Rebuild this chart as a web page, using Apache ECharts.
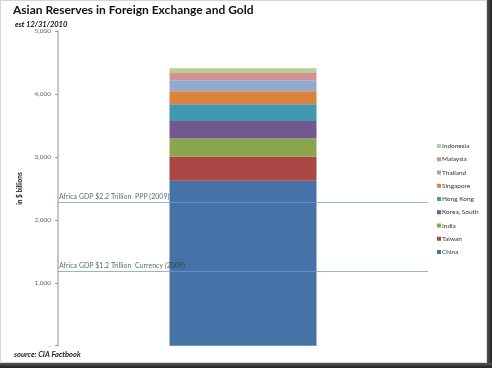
<!DOCTYPE html>
<html><head><meta charset="utf-8">
<script src="https://cdn.jsdelivr.net/npm/echarts@6/dist/echarts.min.js"></script>
<style>html,body{margin:0;padding:0;background:#fff}#c{width:492px;height:368px}</style>
</head><body><div id="c"></div>
<script>
var categories = ['Reserves'];
var countries = ['China','Taiwan','India','Korea, South','Hong Kong','Singapore','Thailand','Malaysia','Indonesia'];
var reserves = [2622, 387, 287, 278, 266, 208, 174, 115, 75];
var colors = ['#4572A7','#AA4643','#89A54E','#71588F','#4198AF','#DB843D','#93A9CF','#D19392','#B9CD96'];
var refLabels = ['Africa GDP $2.2 Trillion  PPP (2009)','Africa GDP $1.2 Trillion  Currency (2009)'];
var refValues = [2280, 1180];
var yTicks = [0, 1000, 2000, 3000, 4000, 5000];

var FONT = 'Lato';
var series = countries.map(function(name, i){
  return {
    name: name, type: 'bar', stack: 'total', barWidth: 147,
    itemStyle: {color: colors[i]},
    data: [reserves[i]]
  };
});
series.push({
  name: 'ref', type: 'line', data: [], silent: true, symbol: 'none',
  markLine: {
    silent: true, symbol: 'none', z: 10,
    lineStyle: {color: '#6f9bd1', width: 1, type: 'solid', opacity: 0.75},
    label: {position: 'insideStartTop', distance: [1, 2], color: '#333', fontFamily: FONT, fontSize: 7},
    data: refValues.map(function(v, i){ return {yAxis: v, label: {formatter: refLabels[i]}}; })
  }
});
var chart = echarts.init(document.getElementById('c'), null, {renderer: 'canvas'});
chart.setOption({
  animation: false,
  backgroundColor: '#fff',
  title: [
    {text: 'Asian Reserves in Foreign Exchange and Gold', left: 13, top: 4, padding: 0,
     textStyle: {fontFamily: FONT, fontWeight: 'bold', fontSize: 12, color: '#111'}},
    {text: 'est 12/31/2010', left: 15, top: 21, padding: 0,
     textStyle: {fontFamily: FONT, fontWeight: 'bold', fontStyle: 'italic', fontSize: 7.5, color: '#111'}}
  ],
  legend: {
    orient: 'vertical', left: 437, top: 141, padding: 0,
    data: countries.slice().reverse(),
    itemWidth: 4, itemHeight: 4, itemGap: 3.25, icon: 'rect',
    textStyle: {fontFamily: FONT, fontSize: 6.5, color: '#333', lineHeight: 10, padding: [0,0,0,-4]}
  },
  grid: {left: 58, right: 64, top: 31.3, bottom: 22.3},
  xAxis: {type: 'category', data: categories, show: false},
  yAxis: {
    type: 'value', min: yTicks[0], max: yTicks[yTicks.length-1], interval: 1000,
    name: 'in $ billions', nameLocation: 'middle', nameGap: 28, nameRotate: 90,
    nameTextStyle: {fontFamily: FONT, fontWeight: 'bold', fontSize: 6.5, color: '#111'},
    axisLine: {show: true, lineStyle: {color: '#c8c8c8', width: 2}},
    axisTick: {show: true, length: 3, lineStyle: {color: '#999'}},
    splitLine: {show: false},
    axisLabel: {margin: 7, fontFamily: FONT, fontSize: 6.5, color: '#666',
      formatter: function(v){ return v === 0 ? '-' : v.toLocaleString('en-US'); }}
  },
  graphic: [
    {type: 'text', left: 14, top: 351, style: {text: 'source: CIA Factbook', fontFamily: FONT, fontStyle: 'italic', fontWeight: 'bold', fontSize: 7.5, fill: '#222'}},
    {type: 'rect', shape: {x: 0.5, y: 0.5, width: 486, height: 362}, style: {fill: 'none', stroke: '#d4d4d4', lineWidth: 1}, silent: true},
    {type: 'rect', shape: {x: 487, y: 0, width: 5, height: 368}, style: {fill: new echarts.graphic.LinearGradient(0,0,1,0,[{offset:0,color:'#555'},{offset:1,color:'#222'}])}, silent: true},
    {type: 'rect', shape: {x: 0, y: 363, width: 492, height: 5}, style: {fill: new echarts.graphic.LinearGradient(0,0,0,1,[{offset:0,color:'#555'},{offset:1,color:'#222'}])}, silent: true}
  ],
  series: series
});
</script></body></html>
